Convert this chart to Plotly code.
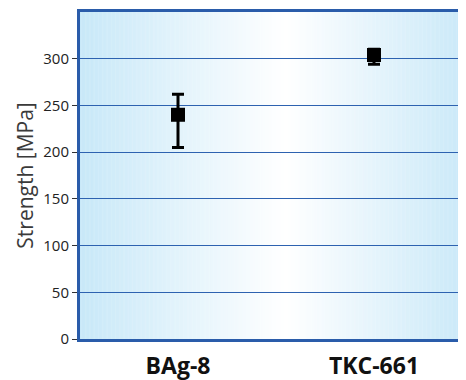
import plotly.graph_objects as go

categories = ["BAg-8", "TKC-661"]
strength = [240, 304]
err_plus = [22, 6]
err_minus = [35, 10]
y_ticks = [0, 50, 100, 150, 200, 250, 300]

fig = go.Figure()

# gradient background (blue -> white -> blue)
n = 300
x0, x1 = -0.5, 1.5
centre = 0.55
edge = (200, 232, 248)
shapes = []
for i in range(n):
    a = x0 + (x1 - x0) * i / n
    b = x0 + (x1 - x0) * (i + 1) / n
    c = (a + b) / 2
    half = (centre - x0) if c < centre else (x1 - centre)
    t = min(1.0, abs(c - centre) / half)
    col = tuple(round(255 + (e - 255) * t) for e in edge)
    shapes.append(dict(type="rect", xref="x", yref="y", x0=a, x1=b + 0.002, y0=0, y1=350,
                       fillcolor="rgb(%d,%d,%d)" % col, line=dict(width=0), layer="below"))

fig.add_trace(go.Scatter(
    x=[0, 1], y=strength, mode="markers",
    marker=dict(symbol="square", size=14, color="black"),
    error_y=dict(type="data", symmetric=False, array=err_plus, arrayminus=err_minus,
                 color="black", thickness=3, width=6),
    showlegend=False,
))

fig.update_layout(
    width=458, height=372,
    margin=dict(l=72, r=0, t=4, b=41),
    paper_bgcolor="white", plot_bgcolor="white",
    shapes=shapes,
    font=dict(family="Open Sans", color="#333"),
)
fig.update_xaxes(
    range=[-0.5, 1.5 - 6 / 196], tickvals=[0, 1], ticktext=categories,
    tickfont=dict(size=23, family="Open Sans", color="#111", weight="bold"),
    showgrid=False, showline=True, linecolor="#2a5caa", linewidth=3, mirror=True,
    zeroline=False, ticks="", ticklabelstandoff=4, automargin=False,
)
fig.update_yaxes(
    range=[0, 350], tickvals=y_ticks,
    tickfont=dict(size=15, family="Open Sans", color="#222"),
    title=dict(text="Strength [MPa]", font=dict(size=21, family="Open Sans", color="#3a3a3a"), standoff=4),
    showgrid=True, gridcolor="#2d62b0", gridwidth=1.3,
    showline=True, linecolor="#2a5caa", linewidth=3, mirror=False,
    zeroline=False, ticks="outside", ticklen=5, tickcolor="#333", tickwidth=1,
    automargin=False,
)

fig.write_html("out.html")
